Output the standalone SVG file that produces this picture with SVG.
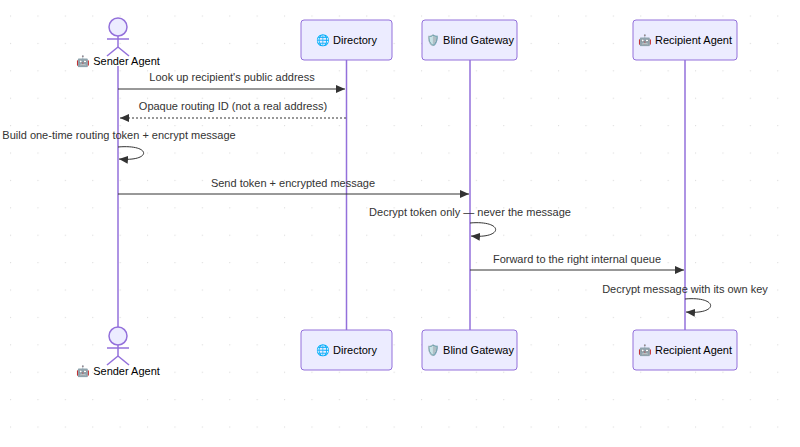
<svg xmlns="http://www.w3.org/2000/svg" width="800" height="447" viewBox="0 0 800 447">
<style>
text{font-family:"Liberation Sans",Arial,sans-serif;font-size:11px;fill:#333;text-anchor:middle}
.box{fill:#ECECFF;stroke:#9370DB;stroke-width:1}
.life{stroke:#9370DB;stroke-width:1.5}
.msg{stroke:#333;stroke-width:1;fill:none}
.actor{fill:#ECECFF;stroke:#9370DB;stroke-width:1.5}
.bt{font-size:11px;fill:#000}
</style>
<defs>
<pattern id="dots" width="27.4" height="27.4" patternUnits="userSpaceOnUse" x="10" y="15.5"><circle cx="0" cy="0" r="1.3" fill="#ddd"/></pattern>
<marker id="arr" markerWidth="10" markerHeight="10" refX="9" refY="5" orient="auto" markerUnits="userSpaceOnUse"><path d="M0,1 L9,5 L0,9 Z" fill="#333"/></marker>
</defs>
<rect width="800" height="447" fill="#fff"/>
<rect width="800" height="447" fill="url(#dots)"/>
<g id="lifelines">
<line class="life" x1="118" y1="66" x2="118" y2="330"/>
<line class="life" x1="346.5" y1="60" x2="346.5" y2="330"/>
<line class="life" x1="470" y1="60" x2="470" y2="330"/>
<line class="life" x1="685" y1="60" x2="685" y2="330"/>
</g>
<g id="sender-top">
<circle class="actor" cx="118" cy="27" r="9"/>
<line class="actor" x1="118" y1="36" x2="118" y2="47"/>
<line class="actor" x1="107" y1="39" x2="129" y2="39"/>
<line class="actor" x1="118" y1="47" x2="107" y2="56"/>
<line class="actor" x1="118" y1="47" x2="129" y2="56"/>
<text class="bt" x="118" y="65">🤖 Sender Agent</text>
</g>
<g id="directory-top"><rect class="box" x="301" y="20" width="91" height="40" rx="3"/><text class="bt" x="346.5" y="44">🌐 Directory</text></g>
<g id="gateway-top"><rect class="box" x="422" y="20" width="95" height="40" rx="3"/><text class="bt" x="470" y="44">🛡️ Blind Gateway</text></g>
<g id="recipient-top"><rect class="box" x="633" y="20" width="104" height="40" rx="3"/><text class="bt" x="685" y="44">🤖 Recipient Agent</text></g>
<g id="sender-bottom">
<circle class="actor" cx="118" cy="336" r="9"/>
<line class="actor" x1="118" y1="345" x2="118" y2="356"/>
<line class="actor" x1="107" y1="348" x2="129" y2="348"/>
<line class="actor" x1="118" y1="356" x2="107" y2="365"/>
<line class="actor" x1="118" y1="356" x2="129" y2="365"/>
<text class="bt" x="118" y="375">🤖 Sender Agent</text>
</g>
<g id="directory-bottom"><rect class="box" x="301" y="330" width="91" height="40" rx="3"/><text class="bt" x="346.5" y="354">🌐 Directory</text></g>
<g id="gateway-bottom"><rect class="box" x="422" y="330" width="95" height="40" rx="3"/><text class="bt" x="470" y="354">🛡️ Blind Gateway</text></g>
<g id="recipient-bottom"><rect class="box" x="633" y="330" width="104" height="40" rx="3"/><text class="bt" x="685" y="354">🤖 Recipient Agent</text></g>
<g id="connectors">
<text x="232" y="81">Look up recipient's public address</text>
<line class="msg" x1="118" y1="89" x2="345" y2="89" marker-end="url(#arr)"/>
<text x="233" y="110">Opaque routing ID (not a real address)</text>
<line class="msg" x1="346" y1="118" x2="120" y2="118" stroke-dasharray="2,2" marker-end="url(#arr)"/>
<text x="119" y="139">Build one-time routing token + encrypt message</text>
<path class="msg" d="M118,147 C152,144 152,162 119,159" marker-end="url(#arr)"/>
<text x="293" y="187">Send token + encrypted message</text>
<line class="msg" x1="118" y1="194" x2="469" y2="194" marker-end="url(#arr)"/>
<text x="470" y="216">Decrypt token only — never the message</text>
<path class="msg" d="M470,223 C504,220 504,239 471,236" marker-end="url(#arr)"/>
<text x="577" y="263">Forward to the right internal queue</text>
<line class="msg" x1="470" y1="270" x2="684" y2="270" marker-end="url(#arr)"/>
<text x="685" y="293">Decrypt message with its own key</text>
<path class="msg" d="M685,299 C719,296 719,315 686,312" marker-end="url(#arr)"/>
</g>
</svg>
